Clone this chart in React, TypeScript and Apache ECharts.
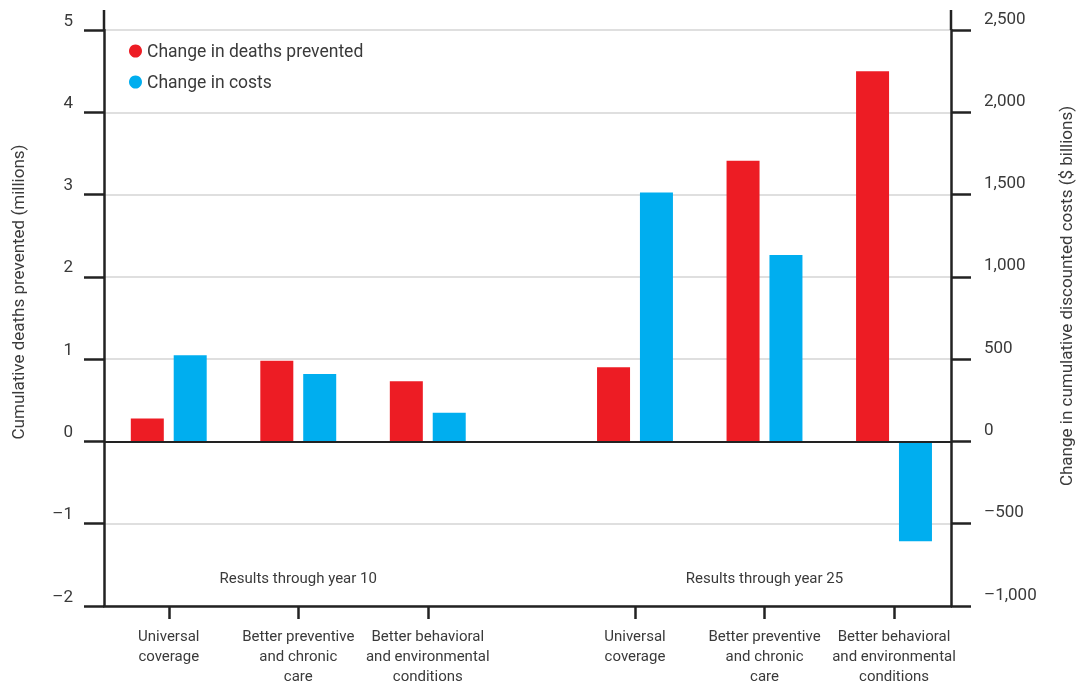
import React, { useEffect, useRef } from "react";
import * as echarts from "echarts";

const categories = [
  "Universal\ncoverage",
  "Better preventive\nand chronic\ncare",
  "Better behavioral\nand environmental\nconditions",
  "Universal\ncoverage",
  "Better preventive\nand chronic\ncare",
  "Better behavioral\nand environmental\nconditions",
];
const deathsPrevented = [0.28, 0.98, 0.73, 0.9, 3.41, 4.5];
const costChange = [524, 410, 175, 1512, 1133, -607];
const periodLabels = ["Results through year 10", "Results through year 25"];
const leftTicks = { min: -2, max: 5, interval: 1 };
const rightTicks = { min: -1000, max: 2500, interval: 500 };

const FONT = "Roboto, 'Open Sans', sans-serif";
const TEXT = "#3a3a3a";
const AXIS = "#222";
const RED = "#ED1C24";
const BLUE = "#00AEEF";

// group position along x: three groups per period, extra gap between periods
const pos = (i: number) => i + (i >= 3 ? 0.6 : 0);
const positions = categories.map((_, i) => pos(i));

const dash = (v: number, s: string) => (v < 0 ? "\u2013" + s.replace("-", "") : s);

export default function App() {
  const ref = useRef<HTMLDivElement>(null);
  useEffect(() => {
    if (!ref.current) return;
    const chart = echarts.init(ref.current, null, { renderer: "svg" });
    const option: any = {
      animation: false,
      grid: { left: 104, right: 126, top: 30, bottom: 75 },
      legend: {
        orient: "vertical",
        left: 124,
        top: 37,
        icon: "circle",
        itemWidth: 13,
        itemHeight: 13,
        itemGap: 13,
        textStyle: { fontFamily: FONT, fontSize: 17.5, color: TEXT, lineHeight: 18 },
        data: ["Change in deaths prevented", "Change in costs"],
      },
      xAxis: {
        type: "value",
        min: -0.5,
        max: 6.04,
        splitLine: { show: false },
        axisLine: { show: true, onZero: false, lineStyle: { color: AXIS, width: 2.5 } },
        axisTick: {
          show: true,
          customValues: positions,
          length: 13,
          lineStyle: { color: AXIS, width: 2.5 },
        },
        axisLabel: {
          customValues: positions,
          margin: 20,
          fontFamily: FONT,
          fontSize: 15,
          lineHeight: 20,
          color: TEXT,
          align: "center",
          formatter: (v: number) => {
            let best = 0;
            positions.forEach((p, i) => {
              if (Math.abs(p - v) < Math.abs(positions[best] - v)) best = i;
            });
            return categories[best];
          },
        },
      },
      yAxis: [
        {
          type: "value",
          min: leftTicks.min,
          max: leftTicks.max,
          interval: leftTicks.interval,
          axisLine: { show: true, onZero: false, lineStyle: { color: AXIS, width: 2.5 } },
          axisTick: { show: true, length: 20, lineStyle: { color: AXIS, width: 2.5 } },
          splitLine: { show: true, lineStyle: { color: "#d4d4d4", width: 1.5 } },
          axisLabel: {
            margin: 31,
            fontFamily: FONT,
            fontSize: 17,
            color: TEXT,
            verticalAlign: "bottom",
            padding: [0, 0, 2, 0],
            formatter: (v: number) => dash(v, String(v)),
          },
        },
        {
          type: "value",
          position: "right",
          min: rightTicks.min,
          max: rightTicks.max,
          interval: rightTicks.interval,
          axisLine: { show: true, onZero: false, lineStyle: { color: AXIS, width: 2.5 } },
          axisTick: { show: true, length: 20, lineStyle: { color: AXIS, width: 2.5 } },
          splitLine: { show: false },
          axisLabel: {
            margin: 33,
            fontFamily: FONT,
            fontSize: 17,
            color: TEXT,
            verticalAlign: "bottom",
            padding: [0, 0, 4, 0],
            formatter: (v: number) => dash(v, Math.abs(v).toLocaleString("en-US")),
          },
        },
      ],
      series: [
        {
          name: "Change in deaths prevented",
          type: "bar",
          yAxisIndex: 0,
          barWidth: 33,
          barGap: "30%",
          itemStyle: { color: RED },
          data: deathsPrevented.map((v, i) => [positions[i], v]),
          markLine: {
            silent: true,
            symbol: "none",
            label: { show: false },
            lineStyle: { color: AXIS, width: 2, type: "solid" },
            data: [{ yAxis: 0 }],
          },
        },
        {
          name: "Change in costs",
          type: "bar",
          yAxisIndex: 1,
          barWidth: 33,
          barGap: "30%",
          itemStyle: { color: BLUE },
          data: costChange.map((v, i) => [positions[i], v]),
        },
      ],
    };
    chart.setOption(option);

    const px1 = chart.convertToPixel({ xAxisIndex: 0 }, positions[1]) as number;
    const px4 = chart.convertToPixel({ xAxisIndex: 0 }, positions[4]) as number;
    const leftX = chart.convertToPixel({ xAxisIndex: 0 }, -0.5) as number;
    const rightX = chart.convertToPixel({ xAxisIndex: 0 }, 6.04) as number;
    const topY = chart.convertToPixel({ yAxisIndex: 0 }, leftTicks.max) as number;
    const labelY = chart.convertToPixel({ yAxisIndex: 0 }, -1.66) as number;
    const periodStyle = { fontFamily: FONT, fontSize: 15, fill: TEXT, align: "center", verticalAlign: "middle" };
    chart.setOption({
      graphic: [
        { type: "line", shape: { x1: leftX, y1: topY - 20, x2: leftX, y2: topY }, style: { stroke: AXIS, lineWidth: 2.5 } },
        { type: "line", shape: { x1: rightX, y1: topY - 20, x2: rightX, y2: topY }, style: { stroke: AXIS, lineWidth: 2.5 } },
        { type: "text", x: px1, y: labelY, style: { text: periodLabels[0], ...periodStyle } },
        { type: "text", x: px4, y: labelY, style: { text: periodLabels[1], ...periodStyle } },
        {
          type: "text",
          x: 18,
          y: 292,
          rotation: Math.PI / 2,
          style: { text: "Cumulative deaths prevented (millions)", fontFamily: FONT, fontSize: 17, fill: TEXT, align: "center", verticalAlign: "middle" },
        },
        {
          type: "text",
          x: 1066,
          y: 296,
          rotation: Math.PI / 2,
          style: { text: "Change in cumulative discounted costs ($ billions)", fontFamily: FONT, fontSize: 17, fill: TEXT, align: "center", verticalAlign: "middle" },
        },
      ],
    });
    return () => chart.dispose();
  }, []);
  return <div ref={ref} style={{ position: "fixed", left: 0, top: 0, width: 1077, height: 686 }} />;
}
